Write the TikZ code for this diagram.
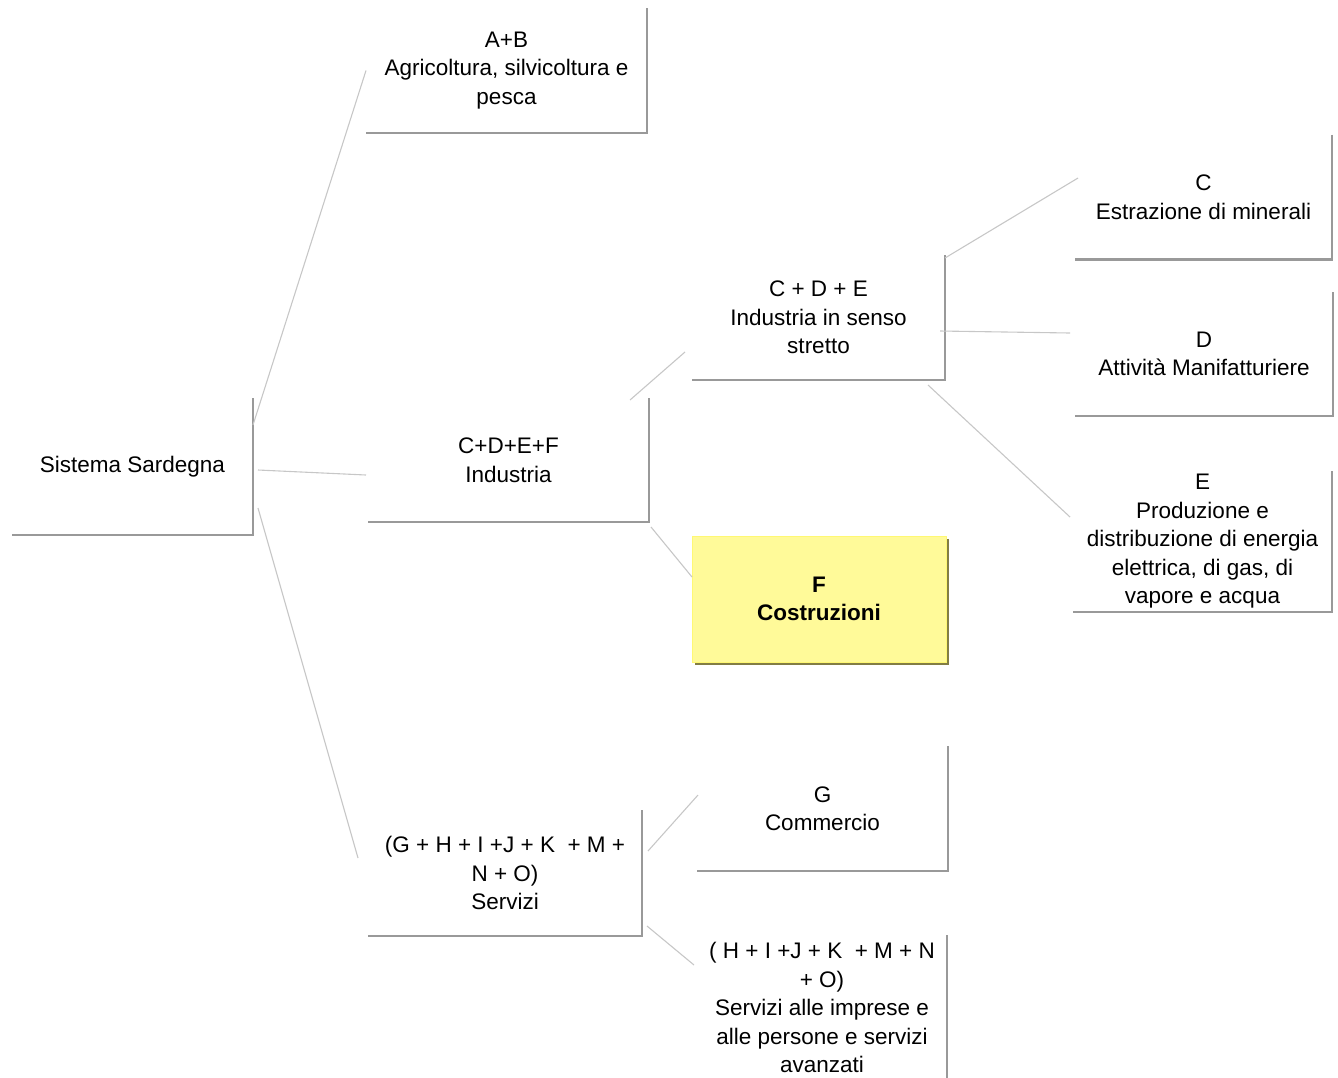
\documentclass[tikz,border=0pt]{standalone}
\usepackage{fontspec}
\setmainfont{Liberation Sans}
\begin{document}
\begin{tikzpicture}[x=1pt,y=-1pt,
  box/.style={inner sep=0pt, outer sep=0pt, align=center,
    font=\fontsize{22.5}{28.5}\selectfont},
  frame/.style={draw=black!40, line width=2.2pt},
  link/.style={draw=black!22, line width=1.1pt},
  yellowbox/.style={box, fill=yellow!40, draw=yellow!55,
    font=\fontsize{22.5}{28.5}\selectfont\bfseries}]
\useasboundingbox (0,0) rectangle (1338,1077);

% nodes
\node[box, minimum width=241, minimum height=137] (sis) at (132.5,466.5) {Sistema Sardegna};
\node[box, minimum width=281, minimum height=125] (ab) at (506.5,70.5) {A+B\\Agricoltura, silvicoltura e\\pesca};
\node[box, minimum width=281, minimum height=124] (ind) at (508.5,460) {C+D+E+F\\Industria};
\node[box, minimum width=274, minimum height=126] (ser) at (505,873) {(G + H + I +J + K \ + M +\\N + O)\\Servizi};
\node[box, minimum width=253, minimum height=125] (cde) at (818.5,317.5) {C + D + E\\Industria in senso\\stretto};
\node[box, minimum width=251, minimum height=125] (g) at (822.5,808.5) {G\\Commercio};
\node[box, minimum width=250, minimum height=145] (h) at (822,1007.5) {( H + I +J + K \ + M + N\\+ O)\\Servizi alle imprese e\\alle persone e servizi\\avanzati};
\node[box, minimum width=257, minimum height=125] (c) at (1203.5,197) {C\\Estrazione di minerali};
\node[box, minimum width=258, minimum height=124] (d) at (1204,354) {D\\Attività Manifatturiere};
\node[box, minimum width=259, minimum height=141] (e) at (1202.5,541.5) {E\\Produzione e\\distribuzione di energia\\elettrica, di gas, di\\vapore e acqua};

% yellow box with shadow
\fill[black!20!olive!60!gray] (695,539) rectangle (949,665);
\node[yellowbox, minimum width=254, minimum height=126] (f) at (819,599) {F\\Costruzioni};

% L-shaped frames
\foreach \n in {sis,ab,ind,ser,cde,g,c,d,e}
  \draw[frame] (\n.north east) -- (\n.south east) -- (\n.south west);
\draw[frame] (h.north east) -- (h.south east);

% connectors
\draw[link] ([yshift=41.5]sis.east) -- (ab.west);
\draw[link] ([xshift=5,yshift=-3.5]sis.east) -- ([xshift=-2,yshift=-15]ind.west);
\draw[link] ([xshift=5,yshift=-41.5]sis.east) -- ([xshift=-10,yshift=15]ser.west);
\draw[link] ([xshift=-19,yshift=-2]ind.north east) -- ([xshift=-7,yshift=28]cde.south west);
\draw[link] ([xshift=2,yshift=-5]ind.south east) -- ([yshift=22]f.west);
\draw[link] ([yshift=-3]cde.north east) -- ([xshift=3,yshift=19]c.west);
\draw[link] ([xshift=-5,yshift=-13.5]cde.east) -- ([xshift=-5,yshift=21]d.west);
\draw[link] ([xshift=-17,yshift=-5]cde.south east) -- ([xshift=-3,yshift=24.5]e.west);
\draw[link] ([xshift=6,yshift=22]ser.east) -- ([xshift=1,yshift=13.5]g.west);
\draw[link] ([xshift=5,yshift=-53]ser.east) -- ([xshift=-3,yshift=42.5]h.west);
\end{tikzpicture}
\end{document}
